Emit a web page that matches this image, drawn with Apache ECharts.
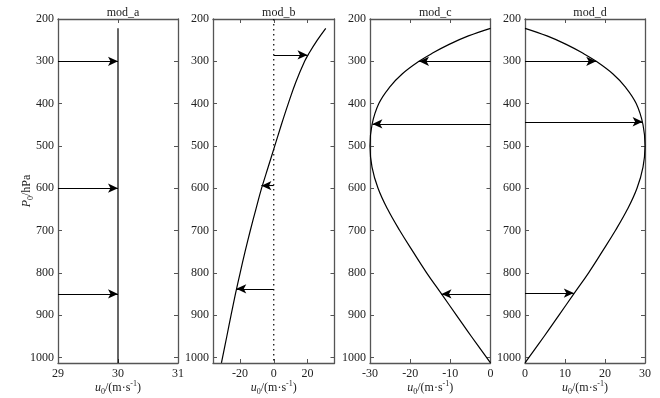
<!DOCTYPE html>
<html><head><meta charset="utf-8">
<script src="https://cdn.jsdelivr.net/npm/echarts@6/dist/echarts.min.js"></script>
<style>html,body{margin:0;padding:0;background:#fff}#c{width:660px;height:398px}</style>
</head><body><div id="c"></div>
<script>
// ---------- data ----------
const panelTitles = ['mod_a', 'mod_b', 'mod_c', 'mod_d'];
const pTicks = [200, 300, 400, 500, 600, 700, 800, 900, 1000];
const pTop = 200;
const pSurface = 1013.25;

const xTicksA = [29, 30, 31];
const xTicksB = [-20, 0, 20];
const xTicksC = [-30, -20, -10, 0];
const xTicksD = [0, 10, 20, 30];

// mod_a: constant wind
const presA = [222, 1013.25];
const uA = [30, 30];
const arrowPresA = [300, 600, 850];
const arrowFromA = [29, 29, 29];
const arrowToA = [30, 30, 30];

// mod_b
const presB = [222, 250, 281, 300, 350, 400, 450, 500, 550, 600, 650, 700, 750, 800, 850, 900, 950, 1013];
const uB = [30.8, 25.8, 20.9, 18.3, 13.0, 8.6, 4.5, 0.6, -3.3, -7.2, -10.6, -13.9, -17.0, -19.9, -22.7, -25.3, -27.8, -31];
const zeroLineB = [0, 0];
const zeroLinePresB = [200, 1013.25];
const arrowPresB = [285, 594, 838];
const arrowFromB = [0, 0, 0];
const arrowToB = [20, -7.3, -22.2];

// mod_c
const presC = [222, 240, 260, 280, 300, 330, 360, 400, 450, 500, 550, 600, 650, 700, 750, 800, 850, 900, 950, 1013];
const uC = [0, -5.5, -10.3, -14.3, -17.8, -22.0, -25.0, -27.8, -29.5, -30, -29.5, -28.0, -25.6, -22.6, -19.3, -15.9, -12.2, -8.5, -4.8, 0];
const arrowPresC = [300, 448, 850];
const arrowFromC = [0, 0, 0];
const arrowToC = [-17.8, -29.4, -12.2];

// mod_d
const presD = [222, 240, 260, 280, 300, 330, 360, 400, 450, 500, 550, 600, 650, 700, 750, 800, 850, 900, 950, 1013];
const uD = [0, 5.5, 10.3, 14.3, 17.8, 22.0, 25.0, 27.8, 29.5, 30, 29.5, 28.0, 25.6, 22.6, 19.3, 15.9, 12.2, 8.5, 4.8, 0];
const arrowPresD = [300, 443, 848];
const arrowFromD = [0, 0, 0];
const arrowToD = [17.8, 29.4, 12.2];

// ---------- layout ----------
const FONT = 'Liberation Serif';
const axisColor = '#555';
const textColor = '#222';
const grids = [
  {left: 58, top: 19, width: 120, height: 344, outerBoundsMode: 'none', containLabel: false},
  {left: 213, top: 19, width: 121.5, height: 344, outerBoundsMode: 'none', containLabel: false},
  {left: 370, top: 19, width: 120.5, height: 344, outerBoundsMode: 'none', containLabel: false},
  {left: 525, top: 19, width: 120, height: 344, outerBoundsMode: 'none', containLabel: false}
];
const xRanges = [[29, 31], [-36, 36], [-30, 0], [0, 30]];
const xTicks = [xTicksA, xTicksB, xTicksC, xTicksD];

const zip = (xs, ys) => xs.map((x, i) => [x, ys[i]]);
const fmt = v => String(v);

const xAxes = [], yAxes = [], series = [], titles = [];
grids.forEach((g, i) => {
  titles.push({
    text: panelTitles[i], left: g.left + g.width / 2, top: 2, textAlign: 'center',
    textStyle: {fontFamily: FONT, fontSize: 12, fontWeight: 'normal', color: textColor}
  });
  const common = {
    type: 'value', gridIndex: i, min: xRanges[i][0], max: xRanges[i][1],
    splitLine: {show: false},
    axisLine: {show: true, onZero: false, lineStyle: {color: axisColor, width: 1.3}},
    axisTick: {show: true, inside: true, length: 4, customValues: xTicks[i], lineStyle: {color: axisColor}}
  };
  xAxes.push(Object.assign({}, common, {
    position: 'bottom',
    axisLabel: {show: true, customValues: xTicks[i], formatter: fmt, margin: 5, fontFamily: FONT, fontSize: 12, color: textColor},
    name: '{i|u}{sub|0}{n|/(m·s}{sup|-1}{n|)}',
    nameLocation: 'middle', nameGap: 17, nameMoveOverlap: false,
    nameTextStyle: {
      fontFamily: FONT, color: textColor,
      rich: {
        i: {fontFamily: FONT, fontStyle: 'italic', fontSize: 12, color: textColor, lineHeight: 16},
        n: {fontFamily: FONT, fontSize: 12, color: textColor, lineHeight: 16},
        sub: {fontFamily: FONT, fontSize: 8, color: textColor, verticalAlign: 'bottom', lineHeight: 16},
        sup: {fontFamily: FONT, fontSize: 8, color: textColor, verticalAlign: 'top', lineHeight: 16}
      }
    }
  }));
  xAxes.push(Object.assign({}, common, {position: 'top', axisLabel: {show: false}}));
  const ycommon = {
    type: 'value', gridIndex: i, min: pTop, max: pSurface, inverse: true,
    splitLine: {show: false},
    axisLine: {show: true, onZero: false, lineStyle: {color: axisColor, width: 1.3}},
    axisTick: {show: true, inside: true, length: 4, customValues: pTicks, lineStyle: {color: axisColor}}
  };
  const yl = Object.assign({}, ycommon, {
    position: 'left',
    axisLabel: {show: true, customValues: pTicks, formatter: fmt, margin: 4, fontFamily: FONT, fontSize: 12, color: textColor}
  });
  if (i === 0) {
    yl.name = '{i|P}{sub|0}{n|/hPa}';
    yl.nameLocation = 'middle';
    yl.nameGap = 23;
    yl.nameRotate = 90;
    yl.nameMoveOverlap = false;
    yl.nameTextStyle = {
      fontFamily: FONT, color: textColor,
      rich: {
        i: {fontFamily: FONT, fontStyle: 'italic', fontSize: 12, color: textColor, lineHeight: 16},
        n: {fontFamily: FONT, fontSize: 12, color: textColor, lineHeight: 16},
        sub: {fontFamily: FONT, fontSize: 8, color: textColor, verticalAlign: 'bottom', lineHeight: 16}
      }
    };
  }
  yAxes.push(yl);
  yAxes.push(Object.assign({}, ycommon, {position: 'right', axisLabel: {show: false}}));
});

function curve(i, us, ps, extra) {
  return Object.assign({
    type: 'line', xAxisIndex: 2 * i, yAxisIndex: 2 * i,
    data: zip(us, ps), showSymbol: false, symbol: 'none', smooth: 0.4,
    lineStyle: {color: '#000', width: 1.2}, silent: true, animation: false
  }, extra || {});
}
function arrows(i, ps, from, to) {
  return {
    type: 'line', xAxisIndex: 2 * i, yAxisIndex: 2 * i, data: [], silent: true, animation: false,
    markLine: {
      silent: true, animation: false, symbol: ['none', 'arrow'], symbolSize: 9,
      label: {show: false}, emphasis: {disabled: true},
      lineStyle: {color: '#000', width: 1.1, type: 'solid'},
      itemStyle: {color: '#000'},
      data: ps.map((p, k) => [{coord: [from[k], p]}, {coord: [to[k], p], symbol: 'arrow', symbolSize: [7, 10]}])
    }
  };
}

series.push(curve(0, uA, presA, {smooth: false}));
series.push(arrows(0, arrowPresA, arrowFromA, arrowToA));
series.push(curve(1, zeroLineB, zeroLinePresB, {smooth: false, lineStyle: {color: '#000', width: 1.2, type: [1.5, 3.5]}}));
series.push(curve(1, uB, presB));
series.push(arrows(1, arrowPresB, arrowFromB, arrowToB));
series.push(curve(2, uC, presC));
series.push(arrows(2, arrowPresC, arrowFromC, arrowToC));
series.push(curve(3, uD, presD));
series.push(arrows(3, arrowPresD, arrowFromD, arrowToD));

const chart = echarts.init(document.getElementById('c'), null, {renderer: 'canvas'});
chart.setOption({
  backgroundColor: '#fff',
  animation: false,
  title: titles,
  grid: grids,
  xAxis: xAxes,
  yAxis: yAxes,
  series: series
});
</script></body></html>
